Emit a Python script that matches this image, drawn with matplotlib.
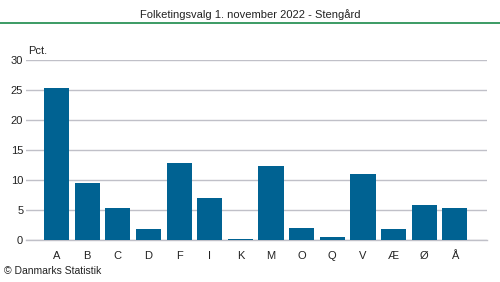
import matplotlib
matplotlib.use("Agg")
import matplotlib.pyplot as plt

categories = ["A", "B", "C", "D", "F", "I", "K", "M", "O", "Q", "V", "Æ", "Ø", "Å"]
values = [25.3, 9.5, 5.3, 1.8, 12.8, 7.0, 0.2, 12.3, 2.0, 0.5, 11.0, 1.8, 5.8, 5.3]
yticks = [0, 5, 10, 15, 20, 25, 30]

plt.rcParams['font.family'] = ['Liberation Sans', 'DejaVu Sans']

W, H = 500, 282
fig = plt.figure(figsize=(W/100, H/100), dpi=100)
ax = fig.add_axes([26/W, 1-240/H, (487-26)/W, (240-59.5)/H])

x = list(range(len(categories)))
ax.bar(x, values, width=0.82, color="#006292", zorder=3)
ax.set_xlim(-1.0, 14.05)
ax.set_ylim(0, 30)
ax.set_yticks(yticks)
ax.set_xticks(x)
ax.set_xticklabels(categories)
ax.yaxis.grid(True, color="#c0c0c8", linewidth=1, zorder=0)
for s in ["top", "right", "left"]:
    ax.spines[s].set_visible(False)
ax.spines["bottom"].set_color("#c0c0c8")
ax.spines["bottom"].set_linewidth(1)
ax.tick_params(axis="both", length=0, labelsize=8, colors="#222222")
ax.tick_params(axis="x", pad=8)
ax.tick_params(axis="y", pad=2)

fig.text(250/W, 1-15/H, "Folketingsvalg 1. november 2022 - Stengård", ha="center", va="center", fontsize=8, color="#222222")
fig.add_artist(plt.Line2D([0, 1], [1-22.5/H, 1-22.5/H], color="#1a8a4a", linewidth=1.2, transform=fig.transFigure))
fig.text(28/W, 1-51/H, "Pct.", ha="left", va="center", fontsize=8, color="#222222")
fig.text(4/W, 1-271/H, "© Danmarks Statistik", ha="left", va="center", fontsize=7.5, color="#222222")

fig.savefig("out.png", dpi=100)
